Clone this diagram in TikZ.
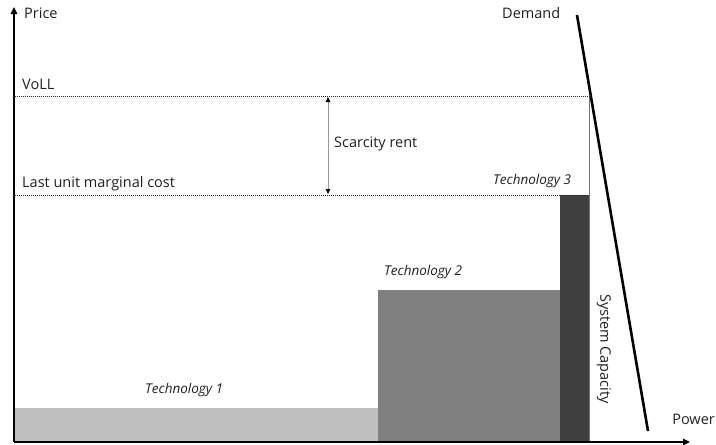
\documentclass[tikz,border=0pt]{standalone}
\usepackage{fontspec}
\setmainfont{Open Sans}
\usetikzlibrary{arrows.meta}
\begin{document}
\begin{tikzpicture}[x=1pt,y=-1pt,
  lbl/.style={font=\fontsize{14.5}{16}\selectfont, text=black!88, inner sep=0pt},
  tech/.style={font=\fontsize{13.5}{15}\selectfont\itshape, text=black!88, inner sep=0pt},
  dotline/.style={densely dotted, line width=1pt, black!85},
  axis/.style={line width=1.2pt, -{Triangle[length=7pt,width=6.5pt]}}]
\useasboundingbox (0,0) rectangle (716,445);
% bars
\fill[black!25] (15,408) rectangle (378,441);
\fill[black!50] (378,290) rectangle (560,441);
\fill[black!75] (560,195) rectangle (589,441);
\draw[black!55, line width=0.8pt] (589,96) -- (589,441);
% dotted lines
\coordinate (vL) at (15,96);
\coordinate (vR) at (589,96);
\coordinate (mL) at (15,195);
\coordinate (mR) at (589,195);
\draw[dotline] (vL) -- (vR);
\draw[dotline] (mL) -- (mR);
% scarcity rent arrow
\coordinate (sT) at (328,97);
\coordinate (sB) at (328,194);
\draw[black!40, line width=0.9pt, {Triangle[length=5pt,width=4.5pt,black]}-{Triangle[length=5pt,width=4.5pt,black]}] (sT) -- (sB);
% demand
\coordinate (d1) at (577,15);
\coordinate (d2) at (648,431);
\draw[line width=2.6pt] (d1) -- (d2);
% axes
\coordinate (o) at (14,442);
\coordinate (yt) at (14,7);
\coordinate (xt) at (690,442);
\draw[axis] (o) -- (yt);
\draw[axis] (o) -- (xt);
% labels
\node[lbl, anchor=west] (price) at (24,13) {Price};
\node[lbl, anchor=west] (demand) at (502,13) {Demand};
\node[lbl, anchor=west] (voll) at (22,84) {VoLL};
\node[lbl, anchor=west] (lumc) at (22,184) {Last unit marginal cost};
\node[lbl, anchor=west] (sr) at (334,144) {Scarcity rent};
\node[tech, anchor=west] (t3) at (493,181) {Technology 3};
\node[tech, anchor=west] (t2) at (384,272) {Technology 2};
\node[tech, anchor=west] (t1) at (145,390) {Technology 1};
\node[lbl, rotate=-90] (sc) at (604,349) {System Capacity};
\node[lbl, anchor=east] (pw) at (715,419) {Power};
\end{tikzpicture}
\end{document}
